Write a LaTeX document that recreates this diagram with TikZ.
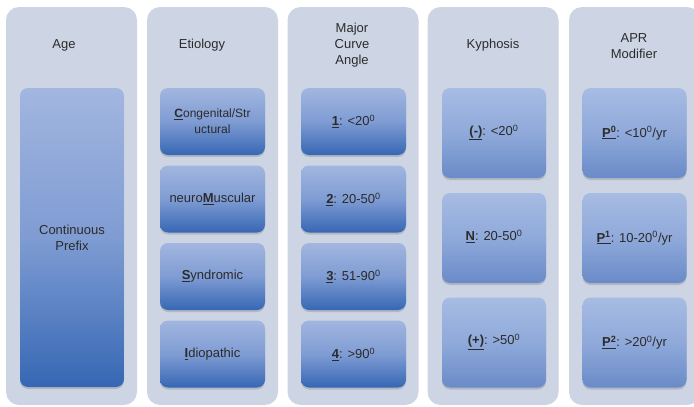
\documentclass[tikz,border=0pt]{standalone}
\usepackage{fontspec}
\setmainfont{Liberation Sans}
\usetikzlibrary{shadows}
\definecolor{panelc}{HTML}{CDD5E5}
\definecolor{txtc}{HTML}{2B2B2B}
\definecolor{btop}{HTML}{A2B6DF}
\definecolor{bmid}{HTML}{7F9CD3}
\definecolor{bbot}{HTML}{3667B4}
\definecolor{ktop}{HTML}{A7BCE3}
\definecolor{kmid}{HTML}{8FA9DA}
\definecolor{kbot}{HTML}{6A8BC8}
\newcommand{\ul}[1]{\underline{\textbf{#1}}}
\newcommand{\dg}{\textsuperscript{0}}
\tikzset{
  x=1pt, y=-1pt,
  panel/.style={fill=panelc, rounded corners=13pt, minimum width=131pt, minimum height=398pt, inner sep=0pt},
  header/.style={text=txtc, font=\fontsize{13}{16}\selectfont, align=center},
  darkbox/.style={rounded corners=8pt, top color=btop, bottom color=bbot, middle color=bmid,
     minimum width=105pt, minimum height=67pt, inner sep=0pt, text=txtc,
     font=\fontsize{13}{16}\selectfont, align=center,
     drop shadow={shadow xshift=0pt, shadow yshift=-2pt, opacity=0.35}},
  lightbox/.style={rounded corners=8pt, top color=ktop, bottom color=kbot, middle color=kmid,
     minimum width=104pt, minimum height=90pt, inner sep=0pt, text=txtc,
     font=\fontsize{13}{16}\selectfont, align=center,
     drop shadow={shadow xshift=0pt, shadow yshift=-2pt, opacity=0.35}},
}
\begin{document}
\begin{tikzpicture}
\useasboundingbox (0,0) rectangle (694,407);
\fill[white] (0,0) rectangle (694,407);
\begin{scope}
\clip (0,0) rectangle (694,407);
% panels
\node[panel] (p1) at (71.5,206) {};
\node[panel] (p2) at (212.5,206) {};
\node[panel] (p3) at (353,206) {};
\node[panel] (p4) at (493,206) {};
\node[panel] (p5) at (634.5,206) {};
\end{scope}
% headers
\node[header] (h1) at (64,45) {Age};
\node[header] (h2) at (202,45) {Etiology};
\node[header] (h3) at (352,45) {Major\\Curve\\Angle};
\node[header] (h4) at (493,45) {Kyphosis};
\node[header] (h5) at (634,46) {APR\\Modifier};
% Age
\node[darkbox, minimum width=104pt, minimum height=299pt] (age) at (72,237.5) {Continuous\\Prefix};
% Etiology
\node[darkbox, font=\fontsize{12}{16}\selectfont] (e1) at (212.5,121.5) {\ul{C}ongenital/Str\\uctural};
\node[darkbox] (e2) at (212.5,199) {neuro\ul{M}uscular};
\node[darkbox] (e3) at (212.5,276.5) {\ul{S}yndromic};
\node[darkbox] (e4) at (212.5,354) {\ul{I}diopathic};
% Major curve
\node[darkbox] (m1) at (353.5,121.5) {\ul{1}: <20\dg};
\node[darkbox] (m2) at (353.5,199) {\ul{2}: 20-50\dg};
\node[darkbox] (m3) at (353.5,276.5) {\ul{3}: 51-90\dg};
\node[darkbox] (m4) at (353.5,354) {\ul{4}: >90\dg};
% Kyphosis
\node[lightbox] (k1) at (494,133) {\raisebox{6pt}{\ul{(-)}: <20\dg}};
\node[lightbox] (k2) at (494,238) {\raisebox{5pt}{\ul{N}: 20-50\dg}};
\node[lightbox] (k3) at (494,342.5) {\raisebox{6pt}{\ul{(+)}: >50\dg}};
% APR
\node[lightbox] (a1) at (634.5,133) {\ul{P\textsuperscript{0}}: <10\dg/yr};
\node[lightbox] (a2) at (634.5,238) {\ul{P\textsuperscript{1}}: 10-20\dg/yr};
\node[lightbox] (a3) at (634.5,342.5) {\ul{P\textsuperscript{2}}: >20\dg/yr};
\end{tikzpicture}
\end{document}
